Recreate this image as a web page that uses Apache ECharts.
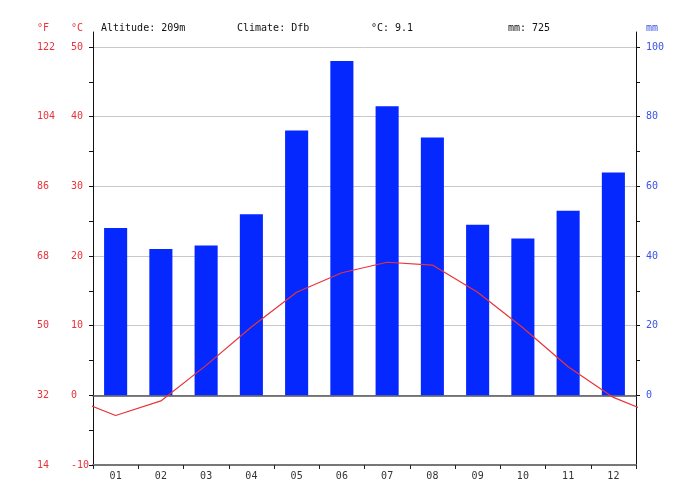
<!DOCTYPE html>
<html><head><meta charset="utf-8">
<script src="https://cdn.jsdelivr.net/npm/echarts@6/dist/echarts.min.js"></script>
<style>html,body{margin:0;padding:0;background:#fff}#c{width:683px;height:497px}</style>
</head><body><div id="c"></div>
<script>
const months = ['01','02','03','04','05','06','07','08','09','10','11','12'];
const precipitation = [48, 42, 43, 52, 76, 96, 83, 74, 49, 45, 53, 64];
const temperature = [-2.9, -0.8, 4.3, 9.8, 14.8, 17.6, 19.1, 18.7, 14.8, 9.7, 4.1, -0.3];
const celsiusLabelValues = [-10, 0, 10, 20, 30, 40, 50];
const celsiusTickValues = [-10, -5, 0, 5, 10, 15, 20, 25, 30, 35, 40, 45, 50];
const fahrenheitLabels = ['14', '32', '50', '68', '86', '104', '122'];
const mmLabelValues = [0, 20, 40, 60, 80, 100];
const mmTickValues = [0, 10, 20, 30, 40, 50, 60, 70, 80, 90, 100];
const headerTexts = ['Altitude: 209m', 'Climate: Dfb', '°C: 9.1', 'mm: 725'];
const unitTexts = ['°F', '°C', 'mm'];

const T_MIN = -10, T_MAX = 52.15;
const RED = '#e8343a', BLUE = '#3a52e6', BAR = '#0528ff';
const MONO = '"DejaVu Sans Mono", monospace';

// wrap-around so the line runs to both plot edges (clipped by the grid)
const lineData = [[-0.5, temperature[11]]]
  .concat(temperature.map((t, i) => [i + 0.5, t]))
  .concat([[12.5, temperature[0]]]);

const chart = echarts.init(document.getElementById('c'), null, {renderer: 'canvas'});
chart.setOption({
  animation: false,
  backgroundColor: '#fff',
  grid: {left: 93, right: 47, top: 32, bottom: 32, containLabel: false, outerBoundsMode: 'none'},
  xAxis: [
    {
      type: 'category', data: months, position: 'bottom',
      axisLine: {onZero: false, lineStyle: {color: '#777', width: 2}},
      axisTick: {show: true, length: 4, lineStyle: {color: '#222'}},
      axisLabel: {color: '#333', fontFamily: MONO, fontSize: 10, margin: 6},
      splitLine: {show: false}
    },
    {
      type: 'value', min: 0, max: 12, show: true, position: 'bottom',
      axisLine: {show: true, onZero: true, onZeroAxisIndex: 0, lineStyle: {color: '#555', width: 1.5}},
      axisTick: {show: false}, axisLabel: {show: false}, splitLine: {show: false}
    }
  ],
  yAxis: [
    { // °C
      type: 'value', min: T_MIN, max: T_MAX, interval: 10, position: 'left',
      axisLine: {show: true, onZero: false, lineStyle: {color: '#111', width: 1}},
      axisTick: {show: true, length: 4, customValues: celsiusTickValues, lineStyle: {color: '#111'}},
      axisLabel: {show: true, customValues: celsiusLabelValues, color: RED, fontFamily: MONO, fontSize: 10,
                  align: 'left', margin: 22},
      splitLine: {show: false}
    },
    { // mm
      type: 'value', min: T_MIN * 2, max: T_MAX * 2, interval: 20, position: 'right',
      axisLine: {show: true, onZero: false, lineStyle: {color: '#111', width: 1}},
      axisTick: {show: true, length: 4, customValues: mmTickValues, lineStyle: {color: '#111'}},
      axisLabel: {show: true, customValues: mmLabelValues, color: BLUE, fontFamily: MONO, fontSize: 10,
                  align: 'left', margin: 10},
      splitLine: {show: false}
    },
    { // °F labels
      type: 'value', min: T_MIN, max: T_MAX, interval: 10, position: 'left',
      axisLine: {show: false, onZero: false}, axisTick: {show: false},
      axisLabel: {show: true, customValues: celsiusLabelValues, color: RED, fontFamily: MONO, fontSize: 10,
                  align: 'left', margin: 56,
                  formatter: v => fahrenheitLabels[celsiusLabelValues.indexOf(Math.round(v))] || ''},
      splitLine: {show: false}
    },
    { // grid lines
      type: 'value', min: T_MIN, max: T_MAX, interval: 10, position: 'left',
      axisLine: {show: false, onZero: false}, axisTick: {show: false}, axisLabel: {show: false},
      splitLine: {show: true, showMinLine: false, showMaxLine: false, lineStyle: {color: '#c8c8c8', width: 1}}
    }
  ],
  series: [
    {
      type: 'bar', name: 'mm', xAxisIndex: 0, yAxisIndex: 1, data: precipitation,
      barWidth: '51%', itemStyle: {color: BAR}, z: 2
    },
    {
      type: 'line', name: '°C', xAxisIndex: 1, yAxisIndex: 0, data: lineData,
      symbol: 'none', clip: true, lineStyle: {color: RED, width: 1.2}, z: 5
    }
  ],
  graphic: [
    {type: 'text', left: 101, top: 23, style: {text: headerTexts[0], font: '10px ' + MONO, fill: '#111'}},
    {type: 'text', left: 237, top: 23, style: {text: headerTexts[1], font: '10px ' + MONO, fill: '#111'}},
    {type: 'text', left: 371, top: 23, style: {text: headerTexts[2], font: '10px ' + MONO, fill: '#111'}},
    {type: 'text', left: 508, top: 23, style: {text: headerTexts[3], font: '10px ' + MONO, fill: '#111'}},
    {type: 'text', left: 37, top: 23, style: {text: unitTexts[0], font: '10px ' + MONO, fill: RED}},
    {type: 'text', left: 71, top: 23, style: {text: unitTexts[1], font: '10px ' + MONO, fill: RED}},
    {type: 'text', left: 646, top: 23, style: {text: unitTexts[2], font: '10px ' + MONO, fill: BLUE}}
  ]
});
</script></body></html>
